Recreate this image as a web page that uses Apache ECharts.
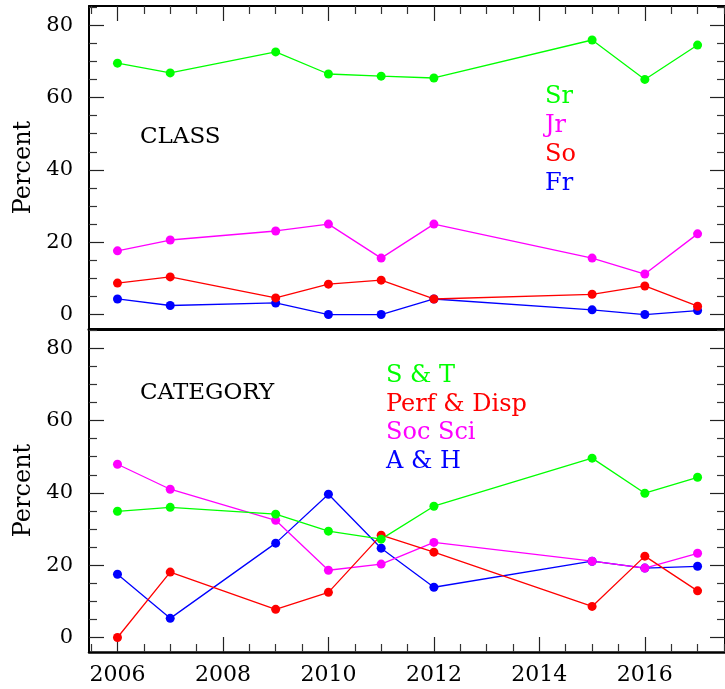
<!DOCTYPE html>
<html>
<head>
<meta charset="utf-8">
<script src="https://cdn.jsdelivr.net/npm/echarts@6/dist/echarts.min.js"></script>
<style>
  html, body { margin: 0; padding: 0; background: #fff; }
  #chart { width: 725px; height: 689px; }
</style>
</head>
<body>
<div id="chart"></div>
<script>
// Survey years shared by both panels
const years = [2006, 2007, 2009, 2010, 2011, 2012, 2015, 2016, 2017];

// Class standing (percent)
const classNames = ['Sr', 'Jr', 'So', 'Fr'];
const srPct = [69.5, 66.8, 72.6, 66.5, 65.9, 65.4, 75.9, 65.0, 74.5];
const jrPct = [17.6, 20.6, 23.1, 25.0, 15.6, 25.0, 15.6, 11.2, 22.3];
const soPct = [8.7, 10.4, 4.6, 8.4, 9.5, 4.3, 5.6, 7.9, 2.3];
const frPct = [4.3, 2.5, 3.2, 0.0, 0.0, 4.3, 1.3, 0.0, 1.1];

// Subject category (percent)
const catNames = ['S & T', 'Perf & Disp', 'Soc Sci', 'A & H'];
const stPct   = [34.9, 36.0, 34.1, 29.4, 27.2, 36.3, 49.6, 39.9, 44.3];
const perfPct = [0.0, 18.1, 7.8, 12.5, 28.3, 23.6, 8.6, 22.5, 12.9];
const socPct  = [47.9, 41.0, 32.4, 18.6, 20.3, 26.3, 21.1, 19.2, 23.3];
const ahPct   = [17.5, 5.3, 26.1, 39.6, 24.7, 13.9, 21.1, 19.2, 19.7];

// Tick positions
const yearLabels = [2006, 2008, 2010, 2012, 2014, 2016];
const yearMinor = [2005.5, 2006.5, 2007, 2007.5, 2008.5, 2009, 2009.5, 2010.5, 2011, 2011.5,
                   2012.5, 2013, 2013.5, 2014.5, 2015, 2015.5, 2016.5, 2017, 2017.5];
const pctLabels = [0, 20, 40, 60, 80];
const pctMinor = [5, 10, 15, 25, 30, 35, 45, 50, 55, 65, 70, 75, 85];

const GREEN = '#00ff00', MAGENTA = '#ff00ff', RED = '#ff0000', BLUE = '#0000ff';
const FONT = 'DejaVu Serif';

const X_MIN = 2005.46, X_MAX = 2017.52;
const Y_MIN = -4, Y_MAX = 85.3;

const panelLeft = 89, panelWidth = 642, panelHeight = 323;
const topPanel = { left: panelLeft, top: 6, width: panelWidth, height: panelHeight };
const botPanel = { left: panelLeft, top: 329, width: panelWidth, height: panelHeight };

function pairs(vals) { return years.map((y, i) => [y, vals[i]]); }

const noLine = { show: false, onZero: false };

function xAxisDef(grid, position, opts) {
  return Object.assign({
    type: 'value', gridIndex: grid, position: position,
    min: X_MIN, max: X_MAX,
    splitLine: { show: false },
    axisLine: noLine,
    axisTick: { show: false },
    axisLabel: { show: false }
  }, opts);
}
function yAxisDef(grid, position, opts) {
  return Object.assign({
    type: 'value', gridIndex: grid, position: position,
    min: Y_MIN, max: Y_MAX,
    splitLine: { show: false },
    axisLine: noLine,
    axisTick: { show: false },
    axisLabel: { show: false }
  }, opts);
}
const frameLine = w => ({ show: true, onZero: false, lineStyle: { color: '#000', width: w } });
const majorTick = vals => ({ show: true, inside: true, length: 15, customValues: vals, lineStyle: { color: '#222', width: 1.2 } });
const minorTickDef = vals => ({ show: true, inside: true, length: 8, customValues: vals, lineStyle: { color: '#333', width: 1.2 } });
const pctLabel = { show: true, customValues: pctLabels, margin: 16, fontFamily: FONT, fontSize: 21, color: '#000' };
const yName = {
  name: 'Percent', nameLocation: 'middle', nameGap: 50, nameRotate: 90,
  nameTextStyle: { fontFamily: FONT, fontSize: 24, color: '#000' }
};

const xAxes = [
  // top panel
  xAxisDef(0, 'top', { axisLine: frameLine(2), axisTick: majorTick(yearLabels) }),
  xAxisDef(0, 'bottom', { axisLine: frameLine(3) }),
  // bottom panel
  xAxisDef(1, 'bottom', {
    axisLine: frameLine(2.5), axisTick: majorTick(yearLabels),
    axisLabel: {
      show: true, customValues: yearLabels, margin: 12,
      fontFamily: FONT, fontSize: 22, color: '#000',
      formatter: v => String(v)
    }
  }),
  xAxisDef(1, 'top', { axisLine: frameLine(1) }),
  // minor tick overlays
  xAxisDef(2, 'top', { axisTick: minorTickDef(yearMinor) }),
  xAxisDef(3, 'bottom', { axisTick: minorTickDef(yearMinor) })
];

const yAxes = [
  yAxisDef(0, 'left', Object.assign({ axisLine: frameLine(2), axisTick: majorTick(pctLabels), axisLabel: pctLabel }, yName)),
  yAxisDef(0, 'right', { axisLine: frameLine(2), axisTick: majorTick(pctLabels) }),
  yAxisDef(1, 'left', Object.assign({ axisLine: frameLine(2), axisTick: majorTick(pctLabels), axisLabel: pctLabel }, yName)),
  yAxisDef(1, 'right', { axisLine: frameLine(2), axisTick: majorTick(pctLabels) }),
  yAxisDef(2, 'left', { axisTick: minorTickDef(pctMinor) }),
  yAxisDef(2, 'right', { axisTick: minorTickDef(pctMinor) }),
  yAxisDef(3, 'left', { axisTick: minorTickDef(pctMinor) }),
  yAxisDef(3, 'right', { axisTick: minorTickDef(pctMinor) })
];

function lineSeries(name, vals, color, xi, yi) {
  return {
    type: 'line', name: name, data: pairs(vals),
    xAxisIndex: xi, yAxisIndex: yi,
    symbol: 'circle', symbolSize: 9, showSymbol: true,
    lineStyle: { color: color, width: 1.3 },
    itemStyle: { color: color },
    animation: false, silent: true
  };
}

const series = [
  lineSeries('Fr', frPct, BLUE, 0, 0),
  lineSeries('So', soPct, RED, 0, 0),
  lineSeries('Jr', jrPct, MAGENTA, 0, 0),
  lineSeries('Sr', srPct, GREEN, 0, 0),
  lineSeries('A & H', ahPct, BLUE, 2, 2),
  lineSeries('Soc Sci', socPct, MAGENTA, 2, 2),
  lineSeries('Perf & Disp', perfPct, RED, 2, 2),
  lineSeries('S & T', stPct, GREEN, 2, 2)
];

// Text placed by its vertical centre
function label(text, x, y, color, size) {
  return {
    type: 'text', x: x, y: y,
    style: {
      text: text, fill: color, font: size + 'px "' + FONT + '"',
      textAlign: 'left', textVerticalAlign: 'middle'
    },
    silent: true
  };
}
const classColors = [GREEN, MAGENTA, RED, BLUE];
const catColors = [GREEN, RED, MAGENTA, BLUE];
const graphics = [label('CLASS', 140, 137, '#000', 23), label('CATEGORY', 140, 393, '#000', 23)];
classNames.forEach((n, i) => graphics.push(label(n, 545, 97 + i * 29, classColors[i], 24)));
catNames.forEach((n, i) => graphics.push(label(n, 386, 376 + i * 28.5, catColors[i], 24)));

const chart = echarts.init(document.getElementById('chart'), null, { renderer: 'canvas' });
chart.setOption({
  backgroundColor: '#fff',
  animation: false,
  grid: [
    Object.assign({}, topPanel),
    Object.assign({}, botPanel),
    Object.assign({}, topPanel),
    Object.assign({}, botPanel)
  ],
  xAxis: xAxes,
  yAxis: yAxes,
  series: series,
  graphic: graphics
});
</script>
</body>
</html>
